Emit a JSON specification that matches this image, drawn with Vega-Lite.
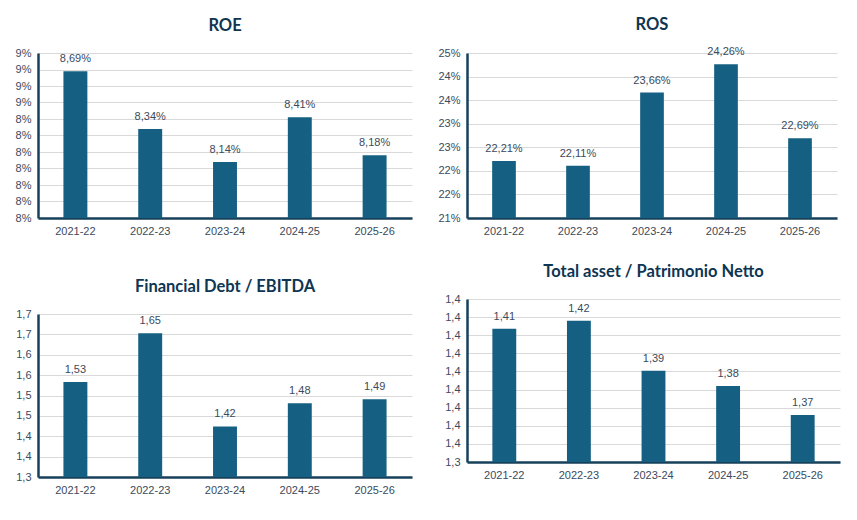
{
  "$schema": "https://vega.github.io/schema/vega-lite/v6.json",
  "padding": {"left": 8, "top": 16, "right": 5, "bottom": 5},
  "data": {
    "values": [
      {"year": "2021-22", "roe": 0.0869, "ros": 0.2221, "fd": 1.533, "ta": 1.4136},
      {"year": "2022-23", "roe": 0.0834, "ros": 0.2211, "fd": 1.653, "ta": 1.418},
      {"year": "2023-24", "roe": 0.0814, "ros": 0.2366, "fd": 1.424, "ta": 1.3904},
      {"year": "2024-25", "roe": 0.0841, "ros": 0.2426, "fd": 1.481, "ta": 1.382},
      {"year": "2025-26", "roe": 0.0818, "ros": 0.2269, "fd": 1.491, "ta": 1.366}
    ]
  },
  "spacing": 25,
  "hconcat": [
    {
      "spacing": 42,
      "vconcat": [
        {
          "title": "ROE",
          "width": 374, "height": 165,
          "encoding": {
            "x": {"field": "year", "type": "ordinal", "title": null,
              "scale": {"paddingInner": 0.68, "paddingOuter": 0.34}},
            "y": {"field": "roe", "type": "quantitative", "title": null,
              "scale": {"domain": [0.078, 0.088], "nice": false, "zero": false},
              "axis": {"values": [0.078, 0.079, 0.08, 0.081, 0.082, 0.083, 0.084, 0.085, 0.086, 0.087, 0.088],
                "labelExpr": "toString(round(datum.value * 100 + 0.000001)) + '%'"}}
          },
          "layer": [
            {"mark": "bar", "encoding": {"y2": {"datum": 0.078}}},
            {"mark": {"type": "text", "baseline": "bottom", "dy": -7},
             "encoding": {"text": {"field": "roe", "type": "quantitative", "format": ".2%"}}}
          ]
        },
        {
          "title": "Financial Debt / EBITDA",
          "width": 374, "height": 163,
          "encoding": {
            "x": {"field": "year", "type": "ordinal", "title": null,
              "scale": {"paddingInner": 0.68, "paddingOuter": 0.34}},
            "y": {"field": "fd", "type": "quantitative", "title": null,
              "scale": {"domain": [1.3, 1.7], "nice": false, "zero": false},
              "axis": {"values": [1.3, 1.35, 1.4, 1.45, 1.5, 1.55, 1.6, 1.65, 1.7],
                "labelExpr": "replace(toString(round(datum.value * 10 + 0.000001) / 10), '.', ',')"}}
          },
          "layer": [
            {"mark": "bar", "encoding": {"y2": {"datum": 1.3}}},
            {"mark": {"type": "text", "baseline": "bottom", "dy": -7},
             "encoding": {"text": {"field": "fd", "type": "quantitative", "format": ".2f"}}}
          ]
        }
      ]
    },
    {
      "spacing": 27,
      "vconcat": [
        {
          "title": "ROS",
          "width": 370, "height": 165,
          "encoding": {
            "x": {"field": "year", "type": "ordinal", "title": null,
              "scale": {"paddingInner": 0.68, "paddingOuter": 0.34}},
            "y": {"field": "ros", "type": "quantitative", "title": null,
              "scale": {"domain": [0.21, 0.245], "nice": false, "zero": false},
              "axis": {"values": [0.21, 0.215, 0.22, 0.225, 0.23, 0.235, 0.24, 0.245],
                "labelExpr": "toString(round(datum.value * 100 + 0.000001)) + '%'"}}
          },
          "layer": [
            {"mark": "bar", "encoding": {"y2": {"datum": 0.21}}},
            {"mark": {"type": "text", "baseline": "bottom", "dy": -7},
             "encoding": {"text": {"field": "ros", "type": "quantitative", "format": ".2%"}}}
          ]
        },
        {
          "title": "Total asset /  Patrimonio Netto",
          "width": 373, "height": 163,
          "encoding": {
            "x": {"field": "year", "type": "ordinal", "title": null,
              "scale": {"paddingInner": 0.68, "paddingOuter": 0.34}},
            "y": {"field": "ta", "type": "quantitative", "title": null,
              "scale": {"domain": [1.34, 1.43], "nice": false, "zero": false},
              "axis": {"values": [1.34, 1.35, 1.36, 1.37, 1.38, 1.39, 1.4, 1.41, 1.42, 1.43],
                "labelExpr": "replace(toString(round(datum.value * 10 + 0.000001) / 10), '.', ',')"}}
          },
          "layer": [
            {"mark": "bar", "encoding": {"y2": {"datum": 1.34}}},
            {"mark": {"type": "text", "baseline": "bottom", "dy": -7},
             "encoding": {"text": {"field": "ta", "type": "quantitative", "format": ".2f"}}}
          ]
        }
      ]
    }
  ],
  "config": {
    "locale": {"number": {"decimal": ",", "thousands": ".", "grouping": [3], "currency": ["", " €"]}},
    "background": "white",
    "view": {"stroke": null},
    "bar": {"color": "#156082"},
    "text": {"font": "Liberation Sans", "fontSize": 11, "color": "#3b4a5c"},
    "title": {"font": "Lato", "fontSize": 16.5, "fontWeight": "bold", "color": "#0e3552", "anchor": "middle", "offset": 13},
    "axis": {"domainColor": "#17405a", "domainWidth": 2.5, "ticks": false,
      "labelColor": "#3b4a5c", "labelFont": "Liberation Sans", "labelFontSize": 11,
      "gridColor": "#d9d9d9", "gridWidth": 1},
    "axisX": {"grid": false, "labelAngle": 0, "labelPadding": 7},
    "axisY": {"labelPadding": 7, "minExtent": 30, "maxExtent": 30}
  }
}
